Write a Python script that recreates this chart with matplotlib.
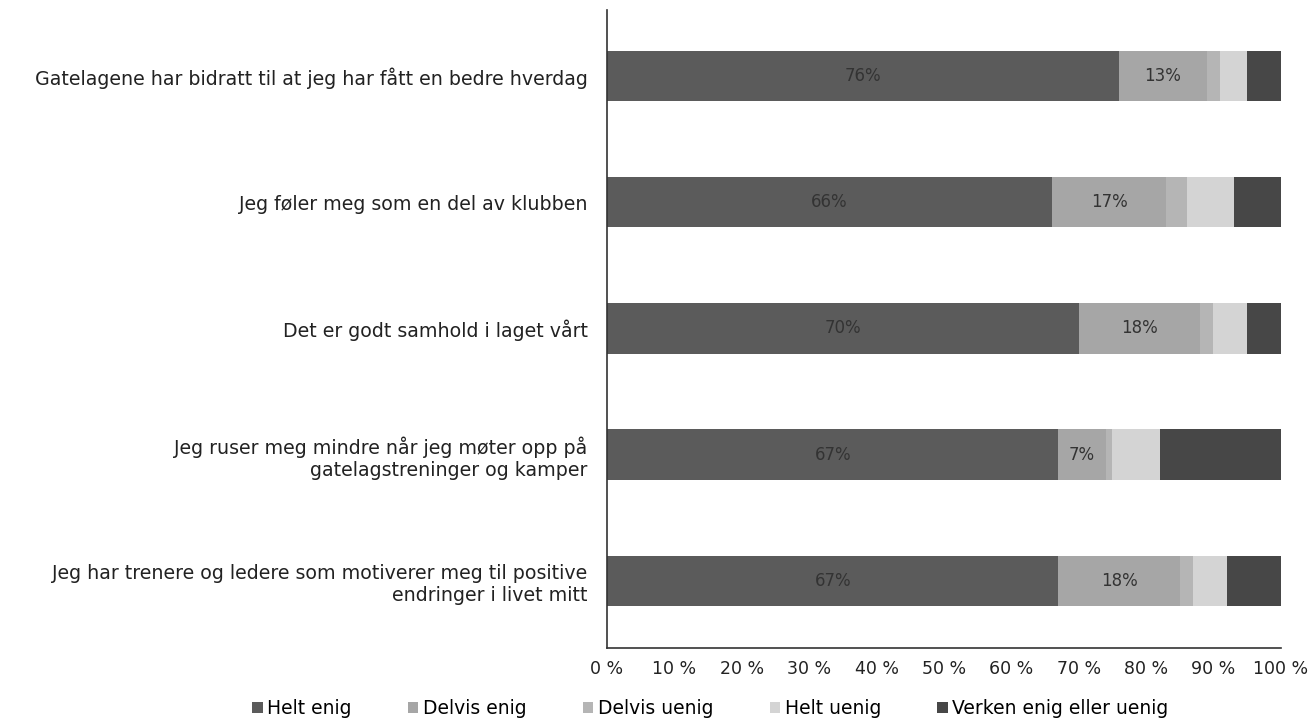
import numpy as np
import matplotlib.pyplot as plt

# ---------- data ----------
statements = [
    "Gatelagene har bidratt til at jeg har fått en bedre hverdag",
    "Jeg føler meg som en del av klubben",
    "Det er godt samhold i laget vårt",
    "Jeg ruser meg mindre når jeg møter opp på\ngatelagstreninger og kamper",
    "Jeg har trenere og ledere som motiverer meg til positive\nendringer i livet mitt",
]
categories = ["Helt enig", "Delvis enig", "Delvis uenig", "Helt uenig", "Verken enig eller uenig"]
helt_enig = [76, 66, 70, 67, 67]
delvis_enig = [13, 17, 18, 7, 18]
delvis_uenig = [2, 3, 2, 1, 2]
helt_uenig = [4, 7, 5, 7, 5]
verken = [5, 7, 5, 18, 8]
x_ticks = [0, 10, 20, 30, 40, 50, 60, 70, 80, 90, 100]

series = [helt_enig, delvis_enig, delvis_uenig, helt_uenig, verken]
colors = ["#5b5b5b", "#a6a6a6", "#b5b5b5", "#d4d4d4", "#474747"]

# ---------- figure ----------
fig = plt.figure(figsize=(13.11, 7.28), dpi=100)
ax = fig.add_axes([0.463, 0.110, 0.514, 0.876])

y = np.arange(len(statements))
left = np.zeros(len(statements))
bars = []
for vals, col, name in zip(series, colors, categories):
    b = ax.barh(y, vals, left=left, height=0.4, color=col, label=name)
    bars.append(b)
    left = left + np.array(vals)

# etiketter kun på de to første segmentene
for b, vals in zip(bars[:2], series[:2]):
    ax.bar_label(b, labels=[f"{v}%" for v in vals], label_type="center",
                 fontsize=12, color="#333333")

ax.set_yticks(y)
ax.set_yticklabels(statements, fontsize=13.7, color="#222222")
ax.set_ylim(4.53, -0.52)
ax.set_xlim(0, 100)
ax.set_xticks(x_ticks)
ax.set_xticklabels([f"{t} %" for t in x_ticks], fontsize=12.5, color="#222222")
ax.tick_params(length=0, pad=9)
ax.tick_params(axis="y", pad=14)
for s in ["top", "right"]:
    ax.spines[s].set_visible(False)
for s in ["left", "bottom"]:
    ax.spines[s].set_color("#333333")
    ax.spines[s].set_linewidth(1.2)

fig.legend(loc="lower center", bbox_to_anchor=(0.542, -0.01), ncol=5, frameon=False,
           fontsize=13.5, handlelength=0.55, handleheight=0.55, handletextpad=0.25,
           columnspacing=3.0)

fig.savefig("out.png", dpi=100)
